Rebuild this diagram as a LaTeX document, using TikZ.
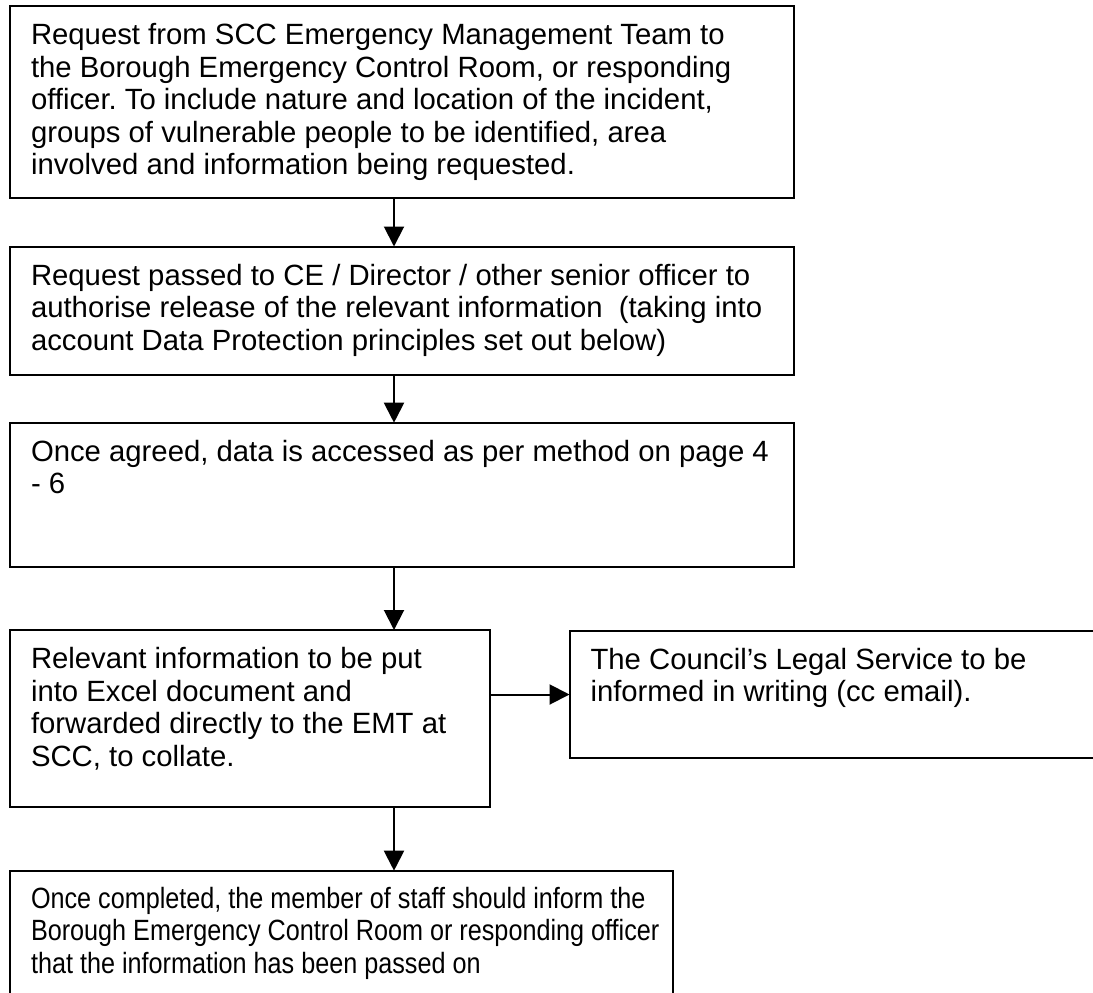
\documentclass[tikz,border=0pt]{standalone}
\usepackage{fontspec}
\setmainfont{Liberation Sans}
\usetikzlibrary{arrows.meta}
\frenchspacing
\tikzset{
  box/.style={draw=black, line width=2pt, rectangle, inner sep=0pt, outer sep=0pt, anchor=north west},
  txt/.style={inner sep=0pt, outer sep=0pt, anchor=base west, font=\fontsize{29.3}{32.5}\selectfont},
  arr/.style={line width=2pt, -{Triangle[length=20pt,width=20pt]}}
}
\begin{document}
\begin{tikzpicture}[x=1pt,y=1pt]
\clip (0,0) rectangle (1093,-993);
\fill[white] (0,0) rectangle (1093,-993);
\node[box, minimum width=784pt, minimum height=192pt] (b1) at (10,-6) {};
\node[box, minimum width=784pt, minimum height=128pt] (b2) at (10,-246.5) {};
\node[box, minimum width=784pt, minimum height=144pt] (b3) at (10,-422.7) {};
\node[box, minimum width=480pt, minimum height=176.5pt] (b4) at (10,-630) {};
\node[box, minimum width=560pt, minimum height=127.6pt] (b5) at (569.5,-630.7) {};
\node[box, minimum width=663.3pt, minimum height=160pt] (b6) at (10,-870.7) {};
\coordinate (axis) at (394,0);
\node[txt] (t1) at ([xshift=21pt,yshift=-39pt]b1.north west) {\parbox[t]{1000pt}{\raggedright\frenchspacing
Request from SCC Emergency Management Team to\\
the Borough Emergency Control Room, or responding\\
officer. To include nature and location of the incident,\\
groups of vulnerable people to be identified, area\\
involved and information being requested.}};
\node[txt] (t2) at ([xshift=21pt,yshift=-38.5pt]b2.north west) {\parbox[t]{1000pt}{\raggedright
Request passed to CE / Director / other senior officer to\\
authorise release of the relevant information\ \ (taking into\\
account Data Protection principles set out below)}};
\node[txt] (t3) at ([xshift=21pt,yshift=-38.5pt]b3.north west) {\parbox[t]{1000pt}{\raggedright
Once agreed, data is accessed as per method on page 4\\
- 6}};
\node[txt] (t4) at ([xshift=21pt,yshift=-38.5pt]b4.north west) {\parbox[t]{1000pt}{\raggedright
Relevant information to be put\\
into Excel document and\\
forwarded directly to the EMT at\\
SCC, to collate.}};
\node[txt] (t5) at ([xshift=21pt,yshift=-38.5pt]b5.north west) {\parbox[t]{1000pt}{\raggedright
The Council’s Legal Service to be\\
informed in writing (cc email).}};
\node[txt] (t6) at ([xshift=21pt,yshift=-37.5pt]b6.north west) {\scalebox{0.86}[1]{\parbox[t]{1000pt}{\raggedright
Once completed, the member of staff should inform the\\
Borough Emergency Control Room or responding officer\\
that the information has been passed on}}};
\draw[arr] (b1.south -| axis) -- (b2.north -| axis);
\draw[arr] (b2.south -| axis) -- (b3.north -| axis);
\draw[arr] (b3.south -| axis) -- (b4.north -| axis);
\draw[arr] (b4.south -| axis) -- (b6.north -| axis);
\draw[arr] (b5.west -| b4.east) -- (b5.west);
\end{tikzpicture}
\end{document}
